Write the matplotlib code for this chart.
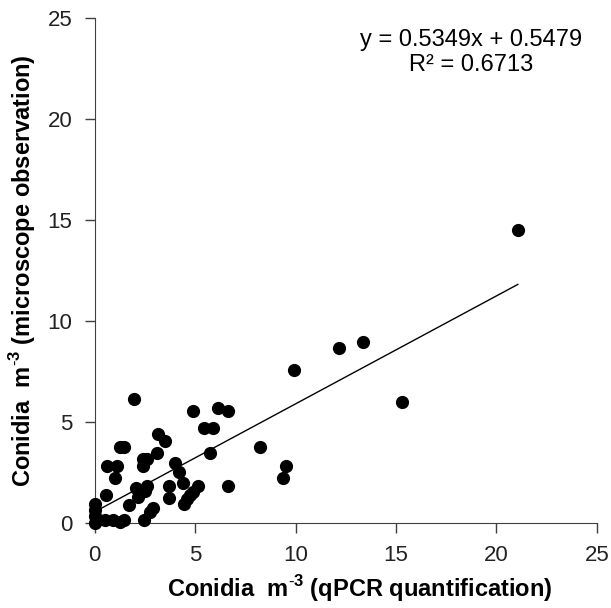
import matplotlib
matplotlib.use("Agg")
import matplotlib.pyplot as plt
import numpy as np

plt.rcParams["font.family"] = ["Liberation Sans", "DejaVu Sans"]
plt.rcParams["mathtext.fontset"] = "custom"
plt.rcParams["mathtext.rm"] = "Liberation Sans"
plt.rcParams["mathtext.bf"] = "Liberation Sans:bold"

# qPCR quantification vs microscope observation (conidia m-3)
qpcr = [21.06, 15.29, 13.35, 12.14, 9.9, 9.52, 9.35, 8.22, 6.65, 6.15,
        6.65, 5.9, 5.45, 5.75, 4.9, 1.97, 3.15, 3.52, 1.28, 1.45,
        3.08, 0.6, 1.1, 1.0, 0.55, 2.38, 2.6, 2.42, 4.0, 4.2,
        4.38, 3.72, 3.72, 5.15, 4.9, 4.75, 4.58, 4.42, 2.6, 2.5,
        2.08, 2.15, 1.7, 2.92, 2.75, 2.45, 1.48, 1.25, 0.92, 0.5,
        0.12, 0.0, 0.0, 0.0, 0.0, 0.05]
micro = [14.5, 6.0, 8.98, 8.67, 7.57, 2.82, 2.2, 3.76, 5.52, 5.67,
         1.85, 4.7, 4.7, 3.45, 5.52, 6.13, 4.4, 4.08, 3.76, 3.76,
         3.45, 2.82, 2.82, 2.2, 1.38, 3.15, 3.15, 2.82, 2.97, 2.5,
         2.0, 1.85, 1.24, 1.85, 1.55, 1.36, 1.16, 0.95, 1.85, 1.57,
         1.72, 1.3, 0.9, 0.72, 0.55, 0.12, 0.15, 0.02, 0.15, 0.15,
         0.12, 0.95, 0.65, 0.35, 0.0, 0.1]

slope, intercept, r2 = 0.5349, 0.5479, 0.6713
ticks = [0, 5, 10, 15, 20, 25]

fig = plt.figure(figsize=(6.11, 6.08), dpi=100)
ax = fig.add_axes([0.155, 0.14, 0.822, 0.83])

ax.scatter(qpcr, micro, s=72, color="black", zorder=3, clip_on=False)
xfit = np.array([0, max(qpcr)])
ax.plot(xfit, slope * xfit + intercept, color="black", linewidth=1.0)

ax.set_xlim(0, 25)
ax.set_ylim(0, 25)
ax.set_xticks(ticks)
ax.set_yticks(ticks)
ax.tick_params(labelsize=16, length=7, width=1, color="#404040",
               labelcolor="#222222", pad=9)
for side in ["top", "right"]:
    ax.spines[side].set_visible(False)
for side in ["left", "bottom"]:
    ax.spines[side].set_color("#404040")

sup = r"m$^{\mathbf{\text{-}3}}$"
ax.set_xlabel(f"Conidia  {sup} (qPCR quantification)",
              fontsize=17, fontweight="bold", labelpad=5)
ax.xaxis.label.set_x(0.528)
ax.set_ylabel(f"Conidia  {sup} (microscope observation)",
              fontsize=17, fontweight="bold", labelpad=7)

ax.text(18.72, 23.3, f"y = {slope}x + {intercept}\nR² = {r2}",
        ha="center", va="center", fontsize=17, linespacing=1.2)

fig.savefig("out.png", dpi=100)
